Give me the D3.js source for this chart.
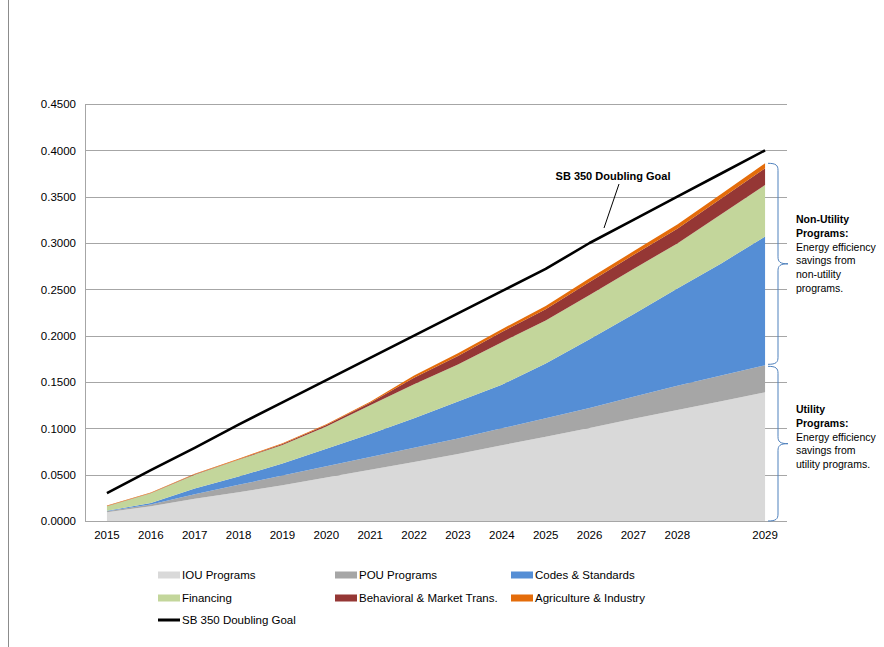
<!DOCTYPE html>
<html>
<head>
<meta charset="utf-8">
<script src="https://cdn.jsdelivr.net/npm/d3@7"></script>
<style>
  html, body { margin: 0; padding: 0; background: #fff; }
  svg { display: block; font-family: "Liberation Sans", Arial, sans-serif; }
</style>
</head>
<body>
<svg id="chart" width="884" height="647"></svg>
<script>
// ---- Data ----
const tickLabels = ["2015","2016","2017","2018","2019","2020","2021","2022","2023","2024","2025","2026","2027","2028","","2029"];
const iouPrograms   = [0.0095,0.0160,0.0240,0.0310,0.0385,0.0470,0.0554,0.0638,0.0722,0.0817,0.0910,0.1004,0.1104,0.1198,0.1292,0.1389];
const pouPrograms   = [0.0010,0.0018,0.0050,0.0080,0.0105,0.0120,0.0136,0.0152,0.0168,0.0183,0.0200,0.0216,0.0236,0.0262,0.0278,0.0291];
const codesStandards= [0.0005,0.0017,0.0060,0.0090,0.0130,0.0190,0.0250,0.0320,0.0400,0.0470,0.0590,0.0740,0.0890,0.1050,0.1210,0.1390];
const financing     = [0.0050,0.0105,0.0150,0.0180,0.0200,0.0240,0.0310,0.0365,0.0400,0.0460,0.0465,0.0480,0.0490,0.0485,0.0530,0.0556];
const behavioral    = [0.0003,0.0003,0.0005,0.0005,0.0012,0.0015,0.0025,0.0070,0.0090,0.0110,0.0120,0.0140,0.0150,0.0160,0.0170,0.0180];
const agriculture   = [0.0003,0.0004,0.0005,0.0006,0.0008,0.0010,0.0012,0.0025,0.0030,0.0030,0.0035,0.0040,0.0040,0.0045,0.0050,0.0054];
const sb350Goal     = [0.030,0.055,0.079,0.104,0.128,0.152,0.176,0.200,0.224,0.248,0.272,0.300,0.325,0.350,0.375,0.400];
const yTicks = [0,0.05,0.10,0.15,0.20,0.25,0.30,0.35,0.40,0.45];

const seriesNames = ["IOU Programs","POU Programs","Codes & Standards","Financing","Behavioral & Market Trans.","Agriculture & Industry"];
const seriesColors = ["#d9d9d9","#a6a6a6","#558ed5","#c3d69b","#953735","#e46c0a"];
const seriesValues = [iouPrograms,pouPrograms,codesStandards,financing,behavioral,agriculture];

(function () {
// ---- Build table ----
const table = tickLabels.map((t,i) => {
  const row = {idx: i};
  seriesNames.forEach((n,k) => row[n] = seriesValues[k][i]);
  return row;
});

const svg = d3.select("#chart");
const pLeft = 85, pRight = 787, pTop = 104, pBottom = 521;

const x = d3.scaleBand().domain(d3.range(tickLabels.length)).range([pLeft, pRight]).padding(0);
const cx = i => x(i) + x.bandwidth()/2;
const y = d3.scaleLinear().domain([0, 0.45]).range([pBottom, pTop]);

// outer frame line
svg.append("line").attr("x1",8.5).attr("x2",8.5).attr("y1",0).attr("y2",647)
  .attr("stroke","#8c8c8c").attr("stroke-width",1);

// gridlines
svg.append("g").selectAll("line").data(yTicks).join("line")
  .attr("x1", pLeft).attr("x2", pRight)
  .attr("y1", d => Math.round(y(d)) + 0.5).attr("y2", d => Math.round(y(d)) + 0.5)
  .attr("stroke", "#a6a6a6").attr("stroke-width", 1);

// stacked areas
const stacked = d3.stack().keys(seriesNames)(table);
const area = d3.area()
  .x(d => cx(d.data.idx))
  .y0(d => y(d[0]))
  .y1(d => y(d[1]));
svg.append("g").selectAll("path").data(stacked).join("path")
  .attr("d", area)
  .attr("fill", (d,i) => seriesColors[i]);

// axes lines
svg.append("line").attr("x1", pLeft+0.5).attr("x2", pLeft+0.5).attr("y1", pTop).attr("y2", pBottom)
  .attr("stroke","#a6a6a6");
svg.append("line").attr("x1", pLeft).attr("x2", pRight).attr("y1", pBottom+0.5).attr("y2", pBottom+0.5)
  .attr("stroke","#a6a6a6");

// y axis labels
const yAxis = d3.axisLeft(y).tickValues(yTicks).tickFormat(d3.format(".4f")).tickSize(0).tickPadding(9);
const gy = svg.append("g").attr("transform", `translate(${pLeft},0)`).call(yAxis);
gy.select(".domain").remove();
gy.selectAll("text").attr("font-size", "11.5px").attr("fill", "#000")
  .attr("font-family", "Liberation Sans, Arial, sans-serif");

// x axis labels
const xAxis = d3.axisBottom(x).tickFormat(i => tickLabels[i]).tickSize(0).tickPadding(10);
const gx = svg.append("g").attr("transform", `translate(0,${pBottom})`).call(xAxis);
gx.select(".domain").remove();
gx.selectAll("text").attr("font-size", "11.5px").attr("fill", "#000")
  .attr("font-family", "Liberation Sans, Arial, sans-serif");

// SB 350 line
const line = d3.line().x((d,i) => cx(i)).y(d => y(d));
svg.append("path").datum(sb350Goal).attr("d", line)
  .attr("fill","none").attr("stroke","#000").attr("stroke-width",2.6).attr("stroke-linejoin","round");

// SB 350 label + leader
svg.append("text").attr("x", 613).attr("y", 180).attr("text-anchor","middle")
  .attr("font-size","11px").attr("font-weight","bold").text("SB 350 Doubling Goal");
svg.append("line").attr("x1",619).attr("y1",184).attr("x2",604).attr("y2",228)
  .attr("stroke","#000").attr("stroke-width",1);

// braces
function brace(yT, yB) {
  const xl = 768, xm = 778, xt = 788, mid = (yT + yB)/2, r = 7;
  return `M${xl},${yT} C${xm-2},${yT} ${xm},${yT+2} ${xm},${yT+r}
          L${xm},${mid-r} C${xm},${mid-2} ${xm+2},${mid} ${xt},${mid}
          C${xm+2},${mid} ${xm},${mid+2} ${xm},${mid+r}
          L${xm},${yB-r} C${xm},${yB-2} ${xm-2},${yB} ${xl},${yB}`;
}
const last = a => a[a.length-1];
const totalTop = d3.sum(seriesValues, s => last(s));
const utilTop = last(iouPrograms) + last(pouPrograms);
svg.append("path").attr("d", brace(y(totalTop), y(utilTop) - 1))
  .attr("fill","none").attr("stroke","#4f81bd").attr("stroke-width",1);
svg.append("path").attr("d", brace(y(utilTop) + 1, y(0)))
  .attr("fill","none").attr("stroke","#4f81bd").attr("stroke-width",1);

function block(lines, x0, y0) {
  const g = svg.append("g");
  lines.forEach((l, i) => {
    g.append("text").attr("x", x0).attr("y", y0 + i*13.8)
      .attr("font-size","10.5px").attr("font-weight", l.b ? "bold" : "normal")
      .text(l.t);
  });
}
block([{t:"Non-Utility",b:true},{t:"Programs:",b:true},{t:"Energy efficiency"},{t:"savings from"},{t:"non-utility"},{t:"programs."}], 796, 223);
block([{t:"Utility",b:true},{t:"Programs:",b:true},{t:"Energy efficiency"},{t:"savings from"},{t:"utility programs."}], 796, 413);

// legend
const legendItems = seriesNames.map((n,i) => ({name:n, color:seriesColors[i], type:"area"}))
  .concat([{name:"SB 350 Doubling Goal", color:"#000", type:"line"}]);
const colX = [158, 335, 511], rowY = [575, 598, 620];
const lg = svg.append("g");
legendItems.forEach((d, i) => {
  const lx = colX[i % 3], ly = rowY[Math.floor(i / 3)];
  if (d.type === "area") {
    lg.append("rect").attr("x", lx).attr("y", ly - 3.5).attr("width", 22).attr("height", 7).attr("fill", d.color);
  } else {
    lg.append("rect").attr("x", lx).attr("y", ly - 1.5).attr("width", 22).attr("height", 3).attr("fill", d.color);
  }
  lg.append("text").attr("x", lx + 24).attr("y", ly + 4).attr("font-size","11.5px").text(d.name);
});
})();
</script>
</body>
</html>
